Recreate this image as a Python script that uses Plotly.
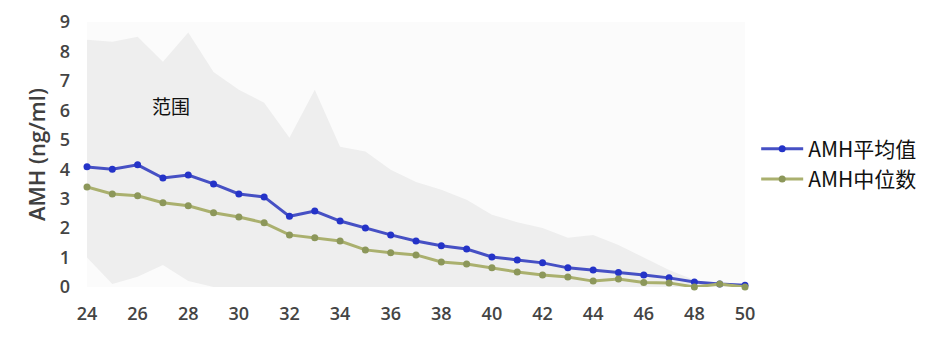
import plotly.graph_objects as go

ages = list(range(24, 51))
amh_mean = [4.08, 4.0, 4.15, 3.7, 3.8, 3.5, 3.16, 3.06, 2.4, 2.58, 2.24, 2.0, 1.77, 1.56, 1.4,
            1.29, 1.02, 0.92, 0.82, 0.65, 0.58, 0.49, 0.41, 0.31, 0.17, 0.1, 0.06]
amh_median = [3.4, 3.16, 3.1, 2.86, 2.76, 2.52, 2.38, 2.18, 1.77, 1.67, 1.56, 1.26, 1.16, 1.09, 0.85,
              0.78, 0.65, 0.51, 0.41, 0.34, 0.2, 0.27, 0.15, 0.14, 0.0, 0.1, 0.0]
range_upper = [8.4, 8.33, 8.5, 7.65, 8.64, 7.3, 6.7, 6.26, 5.07, 6.7, 4.76, 4.6, 3.98, 3.57, 3.3,
               2.96, 2.45, 2.2, 2.0, 1.67, 1.77, 1.43, 1.0, 0.58, 0.24, 0.1, 0.03]
range_lower = [1.0, 0.1, 0.35, 0.75, 0.2, 0.0, 0.0, 0.0, 0.0, 0.0, 0.0, 0.0, 0.0, 0.0, 0.0,
               0.0, 0.0, 0.0, 0.0, 0.0, 0.0, 0.0, 0.0, 0.0, 0.0, 0.0, 0.0]
y_ticks = list(range(0, 10))
x_ticks = list(range(24, 51, 2))

fig = go.Figure()
fig.add_trace(go.Scatter(x=ages, y=range_lower, mode="lines", line=dict(width=0),
                         showlegend=False, hoverinfo="skip"))
fig.add_trace(go.Scatter(x=ages, y=range_upper, mode="lines", line=dict(width=0),
                         fill="tonexty", fillcolor="#eeeeee", showlegend=False, hoverinfo="skip"))
fig.add_trace(go.Scatter(x=ages, y=amh_mean, mode="lines+markers", name="AMH平均值",
                         line=dict(color="#4650c4", width=3),
                         marker=dict(color="#2433c8", size=7), cliponaxis=False))
fig.add_trace(go.Scatter(x=ages, y=amh_median, mode="lines+markers", name="AMH中位数",
                         line=dict(color="#aab06e", width=3),
                         marker=dict(color="#8c975a", size=7), cliponaxis=False))

fig.add_annotation(x=27.3, y=6.15, text="范围", showarrow=False,
                   font=dict(size=19, color="#111111", family="Noto Sans CJK SC"))

# x-axis title, mostly cut off at the bottom edge as in the reference
fig.add_annotation(x=0.477, y=-0.189, xref="paper", yref="paper", xanchor="center",
                   yanchor="top", text="年龄（岁）", showarrow=False,
                   font=dict(size=18, color="#dddddd", family="Noto Sans CJK SC"))

tick_font = dict(size=18, color="#444444", family="Open Sans", weight=600)

fig.update_layout(
    width=935, height=339,
    margin=dict(l=87, r=190, t=22, b=52),
    paper_bgcolor="white", plot_bgcolor="#fbfbfb",
    font=dict(family="Open Sans, Noto Sans CJK SC", color="#444444"),
    legend=dict(x=1.017, y=0.464, xanchor="left", yanchor="middle", xref="paper",
                traceorder="normal",
                font=dict(size=21, color="#111111", family="Noto Sans CJK SC"),
                itemwidth=42, tracegroupgap=4, bgcolor="rgba(0,0,0,0)"),
    xaxis=dict(range=[24, 50], tickvals=x_ticks, showgrid=False, zeroline=False,
               showline=False, ticks="", tickfont=tick_font, ticklabelstandoff=14,
               automargin=False),
    yaxis=dict(range=[0, 9], tickvals=y_ticks, showgrid=False, zeroline=False,
               showline=False, ticks="", tickfont=tick_font, ticklabelstandoff=16,
               automargin=False,
               title=dict(text="AMH (ng/ml)",
                          font=dict(size=22, color="#404040", family="Open Sans", weight=600),
                          standoff=8)),
)

fig.write_html("out.html")
